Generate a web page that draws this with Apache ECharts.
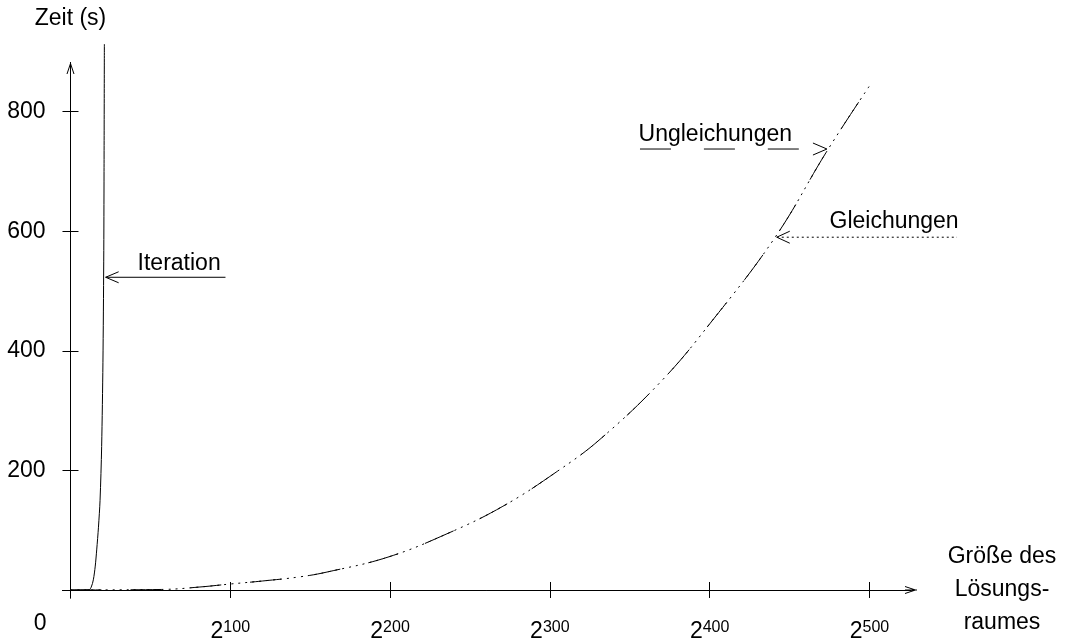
<!DOCTYPE html>
<html lang="de">
<head>
<meta charset="UTF-8">
<title>Zeit über Größe des Lösungsraumes</title>
<script src="https://cdn.jsdelivr.net/npm/echarts@6/dist/echarts.min.js"></script>
<style>html,body{margin:0;padding:0;background:#fff;}</style>
</head>
<body>
<div id="chart" style="width:1068px;height:638px;"></div>
<script>
// x: Exponent n der Lösungsraumgröße 2^n, y: Zeit in Sekunden
var xTicks = [100, 200, 300, 400, 500];
var yTicks = [200, 400, 600, 800];

// Iteration (steigt sofort steil an)
var iterX = [0, 11.6, 13, 14.3, 15.5, 16.4, 17.5, 18.5, 19.5, 20.3, 20.8, 21.0, 21.2];
var iterY = [0, 0.5, 5, 17, 40, 67, 105, 150, 240, 380, 550, 700, 913];

// Ungleichungen / Gleichungen (liegen praktisch aufeinander)
var eqX = [0, 30, 59, 81, 100, 120, 143.6, 160.5, 198.7, 235.6, 270.6, 304.4, 331.4, 370, 400, 441, 473.4, 500];
var ungleichY = [0, 0.3, 1, 5, 10, 15, 22, 30, 55, 94, 140, 198, 252, 350, 445, 590, 734, 843];
var gleichY = [0, 0.3, 1, 5, 10, 15, 22, 30, 55, 94, 140, 198, 252, 350, 445, 590, 734, 843];

function pairs(xs, ys) {
    var out = [];
    for (var i = 0; i < xs.length; i++) out.push([xs[i], ys[i]]);
    return out;
}

var FONT = '"Liberation Sans", Arial, Helvetica, sans-serif';
var FS = 23;
var INK = '#000';
// offene Pfeilspitze mit Schaft, Spitze oben
var ARROW = 'path://M0,12 L4,0 L8,12 L7,12 L4,3 L1,12 Z M3.5,0 L4.5,0 L4.5,12 L3.5,12 Z';

var myChart = echarts.init(document.getElementById('chart'));

var option = {
    backgroundColor: '#fff',
    animation: false,
    grid: {left: 62.5, right: 157, top: 68, bottom: 40, containLabel: false, outerBoundsMode: 'none'},
    xAxis: [{
        type: 'value', min: -5, max: 526, position: 'bottom',
        name: 'Größe des\nLösungs-\nraumes', nameLocation: 'end', nameGap: 91,
        nameTextStyle: {fontFamily: FONT, fontSize: FS, color: INK, lineHeight: 33, align: 'center', verticalAlign: 'middle', padding: [14, 0, 0, 0]},
        axisLine: {onZero: true, symbol: ['none', ARROW], symbolSize: [8, 12], lineStyle: {color: INK, width: 1}},
        axisTick: {show: true, length: 8, customValues: xTicks, lineStyle: {color: INK}},
        axisLabel: {
            customValues: xTicks, margin: 22, color: INK,
            formatter: function (v) { return '{b|2}{s|' + v + '}'; },
            rich: {
                b: {fontFamily: FONT, fontSize: FS, lineHeight: 24, color: INK},
                s: {fontFamily: FONT, fontSize: 16, lineHeight: 24, verticalAlign: 'top', color: INK}
            }
        },
        splitLine: {show: false}
    }, {
        type: 'value', min: -5, max: 526, position: 'top',
        axisLine: {onZero: true, lineStyle: {color: INK, width: 1}},
        axisTick: {show: true, length: 8, customValues: xTicks, lineStyle: {color: INK}},
        axisLabel: {show: false},
        splitLine: {show: false}
    }],
    yAxis: [{
        type: 'value', min: -13.4, max: 873, position: 'left',
        name: 'Zeit (s)', nameLocation: 'end', nameGap: 38,
        nameTextStyle: {fontFamily: FONT, fontSize: FS, color: INK, align: 'center'},
        axisLine: {onZero: true, symbol: ['none', ARROW], symbolSize: [8, 12], lineStyle: {color: INK, width: 1}},
        axisTick: {show: true, length: 8, customValues: yTicks, lineStyle: {color: INK}},
        axisLabel: {customValues: yTicks, margin: 17, fontFamily: FONT, fontSize: FS, color: INK},
        splitLine: {show: false}
    }, {
        type: 'value', min: -13.4, max: 873, position: 'right',
        axisLine: {onZero: true, lineStyle: {color: INK, width: 1}},
        axisTick: {show: true, length: 8, customValues: yTicks, lineStyle: {color: INK}},
        axisLabel: {show: false},
        splitLine: {show: false}
    }],
    series: [{
        name: 'Iteration', type: 'line', clip: false, showSymbol: false,
        smooth: 0.3,
        lineStyle: {color: INK, width: 1},
        data: pairs(iterX, iterY)
    }, {
        name: 'Ungleichungen', type: 'line', clip: false, showSymbol: false,
        smooth: 0.4,
        lineStyle: {color: INK, width: 1, type: [31, 29]},
        data: pairs(eqX, ungleichY)
    }, {
        name: 'Gleichungen', type: 'line', clip: false, showSymbol: false,
        smooth: 0.4,
        lineStyle: {color: INK, width: 1, type: [2, 5]},
        data: pairs(eqX, gleichY)
    }]
};
myChart.setOption(option);

// Beschriftungen mit Pfeilen, Lage in Datenkoordinaten
function px(p) { return myChart.convertToPixel({xAxisIndex: 0, yAxisIndex: 0}, p); }

function chevron(tip, dir, dx, dy) {
    return {
        type: 'polyline',
        shape: {points: [[tip[0] + dir * dx, tip[1] - dy], tip, [tip[0] + dir * dx, tip[1] + dy]]},
        style: {stroke: INK, lineWidth: 1, fill: null}
    };
}

function label(text, p, align) {
    return {
        type: 'text', x: p[0], y: p[1],
        style: {text: text, fontFamily: FONT, fontSize: FS, fill: INK, align: align, verticalAlign: 'middle'}
    };
}

var g = [];
// Iteration
var itA = px([22, 523]), itB = px([97, 523]);
g.push({type: 'line', shape: {x1: itA[0], y1: itA[1], x2: itB[0], y2: itB[1]}, style: {stroke: INK, lineWidth: 1}});
g.push(chevron(itA, 1, 13, 5.5));
g.push(label('Iteration', px([94, 546]), 'right'));

// Ungleichungen
g.push(label('Ungleichungen', px([355.5, 762]), 'left'));
[[356.4, 375.8], [396.4, 415.8], [436.4, 455.8]].forEach(function (s) {
    var a = px([s[0], 737.5]), b = px([s[1], 737.5]);
    g.push({type: 'line', shape: {x1: a[0], y1: a[1], x2: b[0], y2: b[1]}, style: {stroke: INK, lineWidth: 1}});
});
g.push(chevron(px([473.4, 737.5]), -1, 14, 6));

// Gleichungen
var glA = px([442, 590]), glB = px([554.8, 590]);
g.push({type: 'line', shape: {x1: glA[0], y1: glA[1], x2: glB[0], y2: glB[1]}, style: {stroke: INK, lineWidth: 1, lineDash: [2, 3]}});
g.push(chevron(glA, 1, 13, 6));
g.push(label('Gleichungen', px([475, 616]), 'left'));

// gemeinsamer Ursprung
g.push(label('0', px([-19, -56]), 'center'));

myChart.setOption({graphic: g});
</script>
</body>
</html>
